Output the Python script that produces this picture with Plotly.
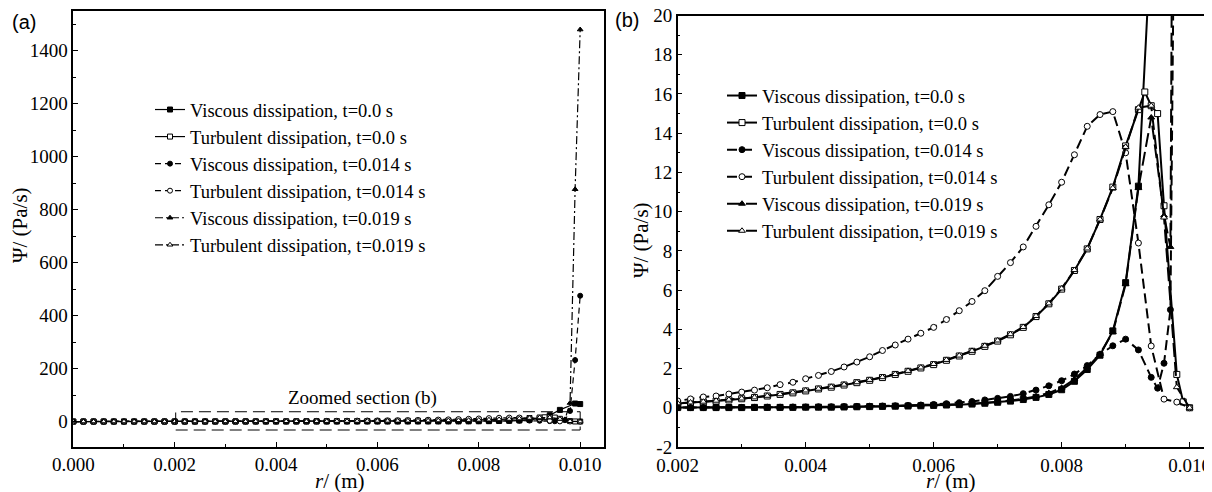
import plotly.graph_objects as go

# ---------------- data ----------------
R_BASE = [0.0000, 0.0002, 0.0004, 0.0006, 0.0008, 0.0010, 0.0012, 0.0014, 0.0016, 0.0018,
          0.0020, 0.0022, 0.0024, 0.0026, 0.0028, 0.0030, 0.0032, 0.0034, 0.0036, 0.0038,
          0.0040, 0.0042, 0.0044, 0.0046, 0.0048, 0.0050, 0.0052, 0.0054, 0.0056, 0.0058,
          0.0060, 0.0062, 0.0064, 0.0066, 0.0068, 0.0070, 0.0072, 0.0074, 0.0076, 0.0078,
          0.0080, 0.0082, 0.0084, 0.0086, 0.0088, 0.0090, 0.0092]

# Viscous dissipation, t=0.0 s
VD0_BASE = [0.00, 0.00, 0.00, 0.00, 0.00, 0.00, 0.00, 0.00, 0.00, 0.00,
            0.01, 0.01, 0.01, 0.01, 0.01, 0.01, 0.02, 0.02, 0.02, 0.02,
            0.03, 0.03, 0.03, 0.04, 0.05, 0.06, 0.07, 0.08, 0.09, 0.10,
            0.12, 0.14, 0.16, 0.19, 0.23, 0.28, 0.34, 0.42, 0.53, 0.68,
            0.92, 1.35, 1.95, 2.68, 3.92, 6.38, 11.3]
VD0_R_TAIL = [0.0094, 0.0096, 0.0099, 0.0100]
VD0_TAIL = [24.0, 44.0, 68.0, 66.0]

# Turbulent dissipation, t=0.0 s
TD0_BASE = [0.02, 0.03, 0.04, 0.05, 0.06, 0.08, 0.10, 0.12, 0.15, 0.18,
            0.22, 0.26, 0.30, 0.34, 0.40, 0.46, 0.52, 0.60, 0.68, 0.76,
            0.86, 0.96, 1.05, 1.16, 1.28, 1.40, 1.54, 1.70, 1.86, 2.03,
            2.20, 2.42, 2.64, 2.88, 3.13, 3.40, 3.72, 4.10, 4.65, 5.30,
            6.05, 7.00, 8.10, 9.60, 11.25, 13.35, 15.2]
TD0_R_TAIL = [0.0093, 0.0094, 0.0095, 0.0096, 0.0098, 0.0099, 0.0100]
TD0_TAIL = [16.1, 15.4, 15.0, 10.3, 1.7, 0.3, 0.0]

# Viscous dissipation, t=0.014 s
VD14_BASE = [0.00, 0.00, 0.00, 0.00, 0.00, 0.00, 0.00, 0.00, 0.00, 0.00,
             0.01, 0.01, 0.01, 0.01, 0.02, 0.02, 0.02, 0.03, 0.03, 0.04,
             0.04, 0.05, 0.05, 0.06, 0.07, 0.08, 0.09, 0.10, 0.12, 0.14,
             0.17, 0.21, 0.26, 0.32, 0.40, 0.48, 0.58, 0.72, 0.90, 1.12,
             1.38, 1.72, 2.15, 2.72, 3.16, 3.50, 2.95]
VD14_R_TAIL = [0.0094, 0.0095, 0.0096, 0.0097, 0.0098, 0.0099, 0.0100]
VD14_TAIL = [1.55, 1.0, 2.27, 5.0, 40.0, 232.0, 475.0]

# Turbulent dissipation, t=0.014 s
TD14_BASE = [0.05, 0.06, 0.08, 0.10, 0.12, 0.14, 0.17, 0.20, 0.24, 0.28,
             0.35, 0.45, 0.55, 0.60, 0.70, 0.80, 0.90, 1.02, 1.18, 1.30,
             1.48, 1.65, 1.85, 2.08, 2.33, 2.60, 2.92, 3.20, 3.50, 3.80,
             4.10, 4.50, 4.95, 5.42, 5.97, 6.70, 7.40, 8.20, 9.25, 10.35,
             11.5, 12.9, 14.35, 14.95, 15.1, 13.0, 8.4]
TD14_R_TAIL = [0.0094, 0.0096, 0.0098, 0.0100]
TD14_TAIL = [3.15, 0.44, 0.29, 0.0]

# Viscous dissipation, t=0.019 s
VD19_BASE = [0.00, 0.00, 0.00, 0.00, 0.00, 0.00, 0.00, 0.00, 0.00, 0.00,
             0.01, 0.01, 0.01, 0.01, 0.01, 0.01, 0.02, 0.02, 0.02, 0.03,
             0.03, 0.03, 0.04, 0.04, 0.05, 0.06, 0.07, 0.08, 0.10, 0.11,
             0.13, 0.15, 0.18, 0.21, 0.25, 0.30, 0.37, 0.46, 0.58, 0.75,
             1.02, 1.45, 2.05, 2.75, 3.85, 6.30, 11.2]
VD19_R_TAIL = [0.0094, 0.0096, 0.0097, 0.0098, 0.0099, 0.0100]
VD19_TAIL = [14.8, 9.8, 8.2, 70.0, 877.0, 1480.0]

# Turbulent dissipation, t=0.019 s
TD19_BASE = [0.02, 0.03, 0.04, 0.05, 0.07, 0.09, 0.11, 0.13, 0.16, 0.19,
             0.23, 0.27, 0.31, 0.36, 0.41, 0.47, 0.53, 0.61, 0.69, 0.78,
             0.88, 0.97, 1.07, 1.18, 1.30, 1.42, 1.56, 1.72, 1.88, 2.05,
             2.23, 2.44, 2.66, 2.90, 3.16, 3.43, 3.75, 4.12, 4.68, 5.32,
             6.08, 7.02, 8.12, 9.60, 11.2, 13.3, 15.3]
TD19_R_TAIL = [0.0094, 0.0096, 0.0098, 0.0100]
TD19_TAIL = [15.4, 9.7, 1.05, 0.0]

LEGEND_NAMES = ["Viscous dissipation, t=0.0 s",
                "Turbulent dissipation, t=0.0 s",
                "Viscous dissipation, t=0.014 s",
                "Turbulent dissipation, t=0.014 s",
                "Viscous dissipation, t=0.019 s",
                "Turbulent dissipation, t=0.019 s"]

X_TICKS_A = [0.000, 0.002, 0.004, 0.006, 0.008, 0.010]
X_TICKS_B = [0.002, 0.004, 0.006, 0.008, 0.010]
Y_TICKS_A = [0, 200, 400, 600, 800, 1000, 1200, 1400]
Y_TICKS_B = [-2, 0, 2, 4, 6, 8, 10, 12, 14, 16, 18, 20]

# ---------------- figure ----------------
SERIF = "Liberation Serif"
SANS = "Liberation Sans"
OFF = 8                      # page body margin of the browser
W, H = 1212 - OFF, 492 - OFF

series = [
    (R_BASE + VD0_R_TAIL, VD0_BASE + VD0_TAIL, "square", True),
    (R_BASE + TD0_R_TAIL, TD0_BASE + TD0_TAIL, "square", False),
    (R_BASE + VD14_R_TAIL, VD14_BASE + VD14_TAIL, "circle", True),
    (R_BASE + TD14_R_TAIL, TD14_BASE + TD14_TAIL, "circle", False),
    (R_BASE + VD19_R_TAIL, VD19_BASE + VD19_TAIL, "triangle-up", True),
    (R_BASE + TD19_R_TAIL, TD19_BASE + TD19_TAIL, "triangle-up", False),
]
dash_a = ["solid", "solid", "6px,4px", "6px,4px", "8px,3px,2px,3px", "8px,3px,2px,3px"]
dash_b = ["solid", "solid", "10px,5px", "10px,5px", "14px,5px", "14px,5px"]

fig = go.Figure()
for i, (xs, ys, sym, filled) in enumerate(series):
    mk = dict(symbol=sym, size=5, color="black" if filled else "white",
              line=dict(color="black", width=1))
    fig.add_trace(go.Scatter(x=xs, y=ys, mode="lines+markers", name=LEGEND_NAMES[i],
                             xaxis="x", yaxis="y", legend="legend",
                             line=dict(color="black", width=1.2, dash=dash_a[i]),
                             marker=mk))
for i, (xs, ys, sym, filled) in enumerate(series):
    mk = dict(symbol=sym, size=6, color="black" if filled else "white",
              line=dict(color="black", width=1))
    fig.add_trace(go.Scatter(x=xs, y=ys, mode="lines+markers", name=LEGEND_NAMES[i],
                             xaxis="x2", yaxis="y2", legend="legend2",
                             line=dict(color="black", width=2, dash=dash_b[i]),
                             marker=mk))

def px_x(p):
    return (p - OFF) / W

def px_y(p):
    return 1 - (p - OFF) / H

axis_common = dict(showgrid=False, zeroline=False, showline=True, linecolor="black",
                   linewidth=1.5, ticks="inside", ticklen=5, tickwidth=1.2, tickcolor="black",
                   automargin=False, ticklabeloverflow="allow",
                   tickfont=dict(family=SERIF, size=19, color="black"))

fig.update_layout(
    width=W, height=H,
    font=dict(family=SERIF, size=19, color="black"),
    margin=dict(l=0, r=0, t=0, b=0, pad=0),
    paper_bgcolor="white", plot_bgcolor="white",
    showlegend=True,
    xaxis=dict(domain=[px_x(73.3), px_x(604)], range=[0, 0.01047], anchor="y",
               tickvals=X_TICKS_A, ticktext=[f"{v:.3f}" for v in X_TICKS_A], mirror=True,
               minor=dict(dtick=0.001, tick0=0, ticks="inside", ticklen=3, tickcolor="black"),
               **axis_common),
    yaxis=dict(domain=[px_y(446.7), px_y(11)], range=[-95, 1550], anchor="x",
               tickvals=Y_TICKS_A, mirror=True,
               minor=dict(dtick=100, tick0=0, ticks="inside", ticklen=3, tickcolor="black"),
               **axis_common),
    xaxis2=dict(domain=[px_x(677.7), 1.0], range=[0.002, 0.01035], anchor="y2",
                tickvals=X_TICKS_B, ticktext=[f"{v:.3f}" for v in X_TICKS_B], mirror=True,
                minor=dict(dtick=0.001, tick0=0, ticks="inside", ticklen=3, tickcolor="black"),
                **axis_common),
    yaxis2=dict(domain=[px_y(447), px_y(15.5)], range=[-2, 20], anchor="x2",
                tickvals=Y_TICKS_B, ticktext=[str(v) for v in Y_TICKS_B], mirror=False,
                minor=dict(dtick=1, tick0=0, ticks="inside", ticklen=3, tickcolor="black"),
                **axis_common),
    legend=dict(x=px_x(150), y=px_y(91), xanchor="left", yanchor="top",
                bgcolor="rgba(0,0,0,0)", borderwidth=0, tracegroupgap=0,
                font=dict(family=SERIF, size=18.5, color="black")),
    legend2=dict(x=px_x(722), y=px_y(77), xanchor="left", yanchor="top",
                 bgcolor="rgba(0,0,0,0)", borderwidth=0, tracegroupgap=0,
                 font=dict(family=SERIF, size=18.5, color="black")),
)

# zoomed-section rectangle in panel (a)
fig.add_shape(type="rect", xref="x", yref="y", x0=0.00202, x1=0.0100, y0=-32, y1=37,
              line=dict(color="black", width=1, dash="12px,6px"), fillcolor="rgba(0,0,0,0)")

ann_font = dict(family=SERIF, size=21, color="black")
fig.add_annotation(xref="x", yref="y", x=0.0057, y=90, text="Zoomed section (b)",
                   showarrow=False, xanchor="center", yanchor="middle",
                   font=dict(family=SERIF, size=19, color="black"))
fig.add_annotation(xref="paper", yref="paper", x=px_x(20), y=px_y(225), text="Ψ/ (Pa/s)",
                   textangle=-90, showarrow=False, xanchor="center", yanchor="middle", font=ann_font)
fig.add_annotation(xref="paper", yref="paper", x=px_x(641), y=px_y(240), text="Ψ/ (Pa/s)",
                   textangle=-90, showarrow=False, xanchor="center", yanchor="middle", font=ann_font)
fig.add_annotation(xref="paper", yref="paper", x=px_x(340), y=px_y(481), text="<i>r</i>/ (m)",
                   showarrow=False, xanchor="center", yanchor="middle", font=ann_font)
fig.add_annotation(xref="paper", yref="paper", x=px_x(951), y=px_y(481), text="<i>r</i>/ (m)",
                   showarrow=False, xanchor="center", yanchor="middle", font=ann_font)
fig.add_annotation(xref="paper", yref="paper", x=px_x(10), y=px_y(22), text="(a)",
                   xanchor="left", yanchor="middle", showarrow=False,
                   font=dict(family=SANS, size=20, color="black"))
fig.add_annotation(xref="paper", yref="paper", x=px_x(613), y=px_y(20), text="(b)",
                   xanchor="left", yanchor="middle", showarrow=False,
                   font=dict(family=SANS, size=20, color="black"))

fig.write_html("out.html")
